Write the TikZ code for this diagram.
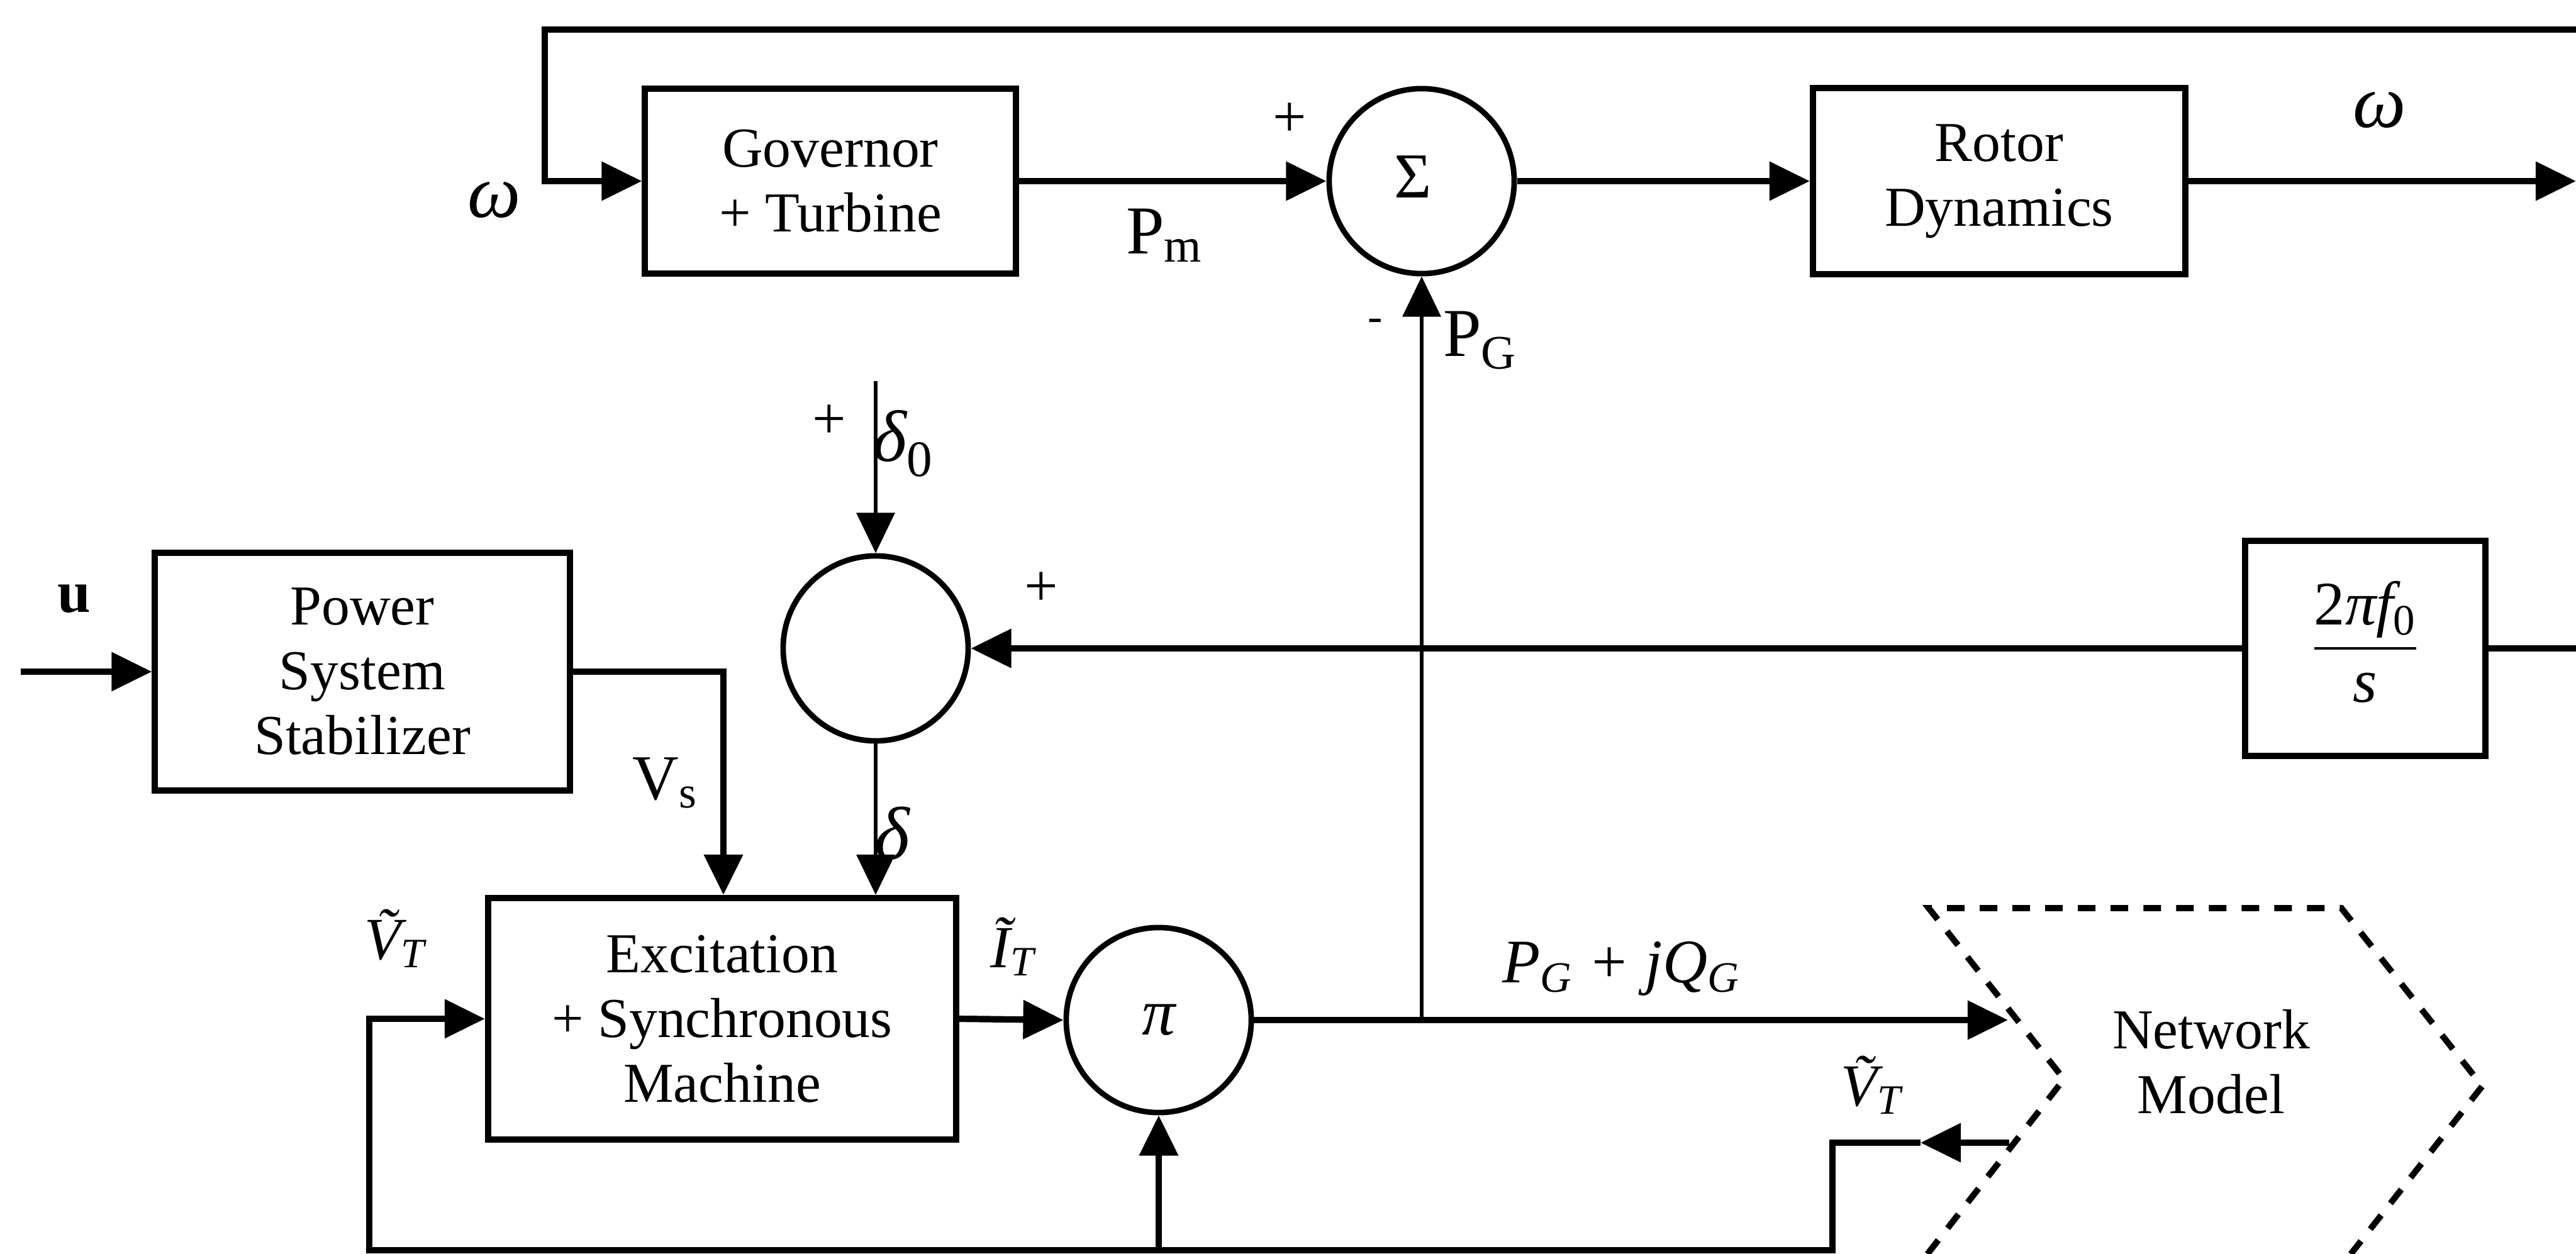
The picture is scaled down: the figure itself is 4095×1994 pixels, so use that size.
\documentclass[tikz,border=0pt]{standalone}
\usepackage{fontspec}
\setmainfont{Liberation Serif}
\usetikzlibrary{arrows.meta,calc}
\setlength{\arrayrulewidth}{1pt}
\begin{document}
\begin{tikzpicture}[x=0.01cm,y=-0.01cm,
  thk/.style={line width=2.9pt},
  thn/.style={line width=1.8pt},
  arr/.style={-{Triangle[length=0.64cm,width=0.6cm]}},
  blk/.style={draw,rectangle,line width=2.8pt,align=center,inner sep=0pt,
    font=\fontsize{25.5}{29.3}\selectfont},
  sumc/.style={draw,circle,line width=2.5pt,minimum size=2.94cm,inner sep=0pt},
  txt/.style={inner sep=0pt,font=\fontsize{25}{29}\selectfont},
  upl/.style={inner sep=0pt,font=\fontsize{31}{33}\selectfont},
  itl/.style={inner sep=0pt,font=\fontsize{27}{30}\selectfont\itshape},
  grk/.style={inner sep=0pt,font=\fontsize{34}{36}\selectfont\itshape},
  netline/.style={line width=2.8pt,dash pattern=on 0.28cm off 0.24cm}
]
\useasboundingbox (0,0) rectangle (4095,1994);

% ---- blocks
\node[blk,minimum width=5.89cm,minimum height=2.94cm] (gov) at (1320,288) {Governor\\+ Turbine};
\node[sumc,font=\fontsize{29}{30}\selectfont] (sum1) at (2260,288) {\raisebox{4pt}{Σ}\hspace*{8pt}};
\node[blk,minimum width=5.92cm,minimum height=2.95cm] (rot) at (3178,288) {Rotor\\Dynamics};
\node[blk,minimum width=6.59cm,minimum height=3.77cm] (pss) at (576,1068) {Power\\System\\Stabilizer};
\node[sumc] (sum2) at (1392,1031) {};
\node[blk,minimum width=3.82cm,minimum height=3.41cm,font=\fontsize{28}{34}\selectfont] (integ) at (3760,1031)
  {\begin{tabular}{@{}c@{}}2{\itshape πf}\textsubscript{0}\\\hline {\itshape s}\end{tabular}};
\node[blk,minimum width=7.44cm,minimum height=3.84cm] (exc) at (1148,1620) {Excitation\\+ Synchronous\\Machine};
\node[sumc,font=\fontsize{30}{32}\selectfont\itshape] (pi) at (1842,1622) {π};

% ---- network model chevron
\coordinate (nTL) at (3066,1444);
\coordinate (nTR) at (3722,1444);
\coordinate (nRP) at (3946,1727);
\coordinate (nBR) at (3737,1994);
\coordinate (nBL) at (3064,1994);
\coordinate (nLP) at (3281,1716);
\draw[netline] (nBL) -- (nLP) -- (nTL) -- (nTR) -- (nRP) -- (nBR);
\node[txt,align=center,font=\fontsize{25.5}{29.3}\selectfont] (netl) at (3515,1688) {Network\\Model};

% ---- free ends
\coordinate (topR) at (4095,47);
\coordinate (topL) at (866,47);
\coordinate (omR) at (4095,288);
\coordinate (d0) at (1392,606);
\coordinate (intR) at (4095,1031);
\coordinate (uin) at (33,1068);
\coordinate (vs) at (1150,1068);
\coordinate (pqtip) at (3192,1622);
\coordinate (vtA) at (3194,1817);
\coordinate (vtM) at (3053,1817);
\coordinate (vtC) at (2913,1817);
\coordinate (botR) at (2913,1988);
\coordinate (botL) at (587,1988);

% ---- connectors
\draw[thk,arr] (topR) -- (topL) |- (gov.west);
\draw[thk,arr] (gov.east) -- (sum1.west);
\draw[thk,arr] (sum1.east) -- (rot.west);
\draw[thk,arr] (rot.east) -- (omR);
\draw[thn,arr] (sum1.south |- pi.east) -- (sum1.south);
\draw[thk,arr] (uin) -- (pss.west);
\draw[thk,arr] (pss.east) -- (vs) -- (vs |- exc.north);
\draw[thn,arr] (d0) -- (sum2.north);
\draw[thk,arr] (integ.west) -- (sum2.east);
\draw[thk] (integ.east) -- (intR);
\draw[thn,arr] (sum2.south) -- (sum2.south |- exc.north);
\draw[thk,arr] (exc.east) -- (pi.west);
\draw[thk,arr] (pi.east) -- (pqtip);
\draw[thk,arr] (vtA) -- (vtM);
\draw[thk,arr] (vtM) -- (vtC) -- (botR) -- (botL) |- (exc.west);
\draw[thk,arr] (pi.south |- botL) -- (pi.south);

% ---- labels
\node[grk] (omL) at (786,318) {ω};
\node[grk] (omRl) at (3783,175) {ω};
\node[txt,font=\fontsize{27}{29}\selectfont] (plus1) at (2050,191) {+};
\node[upl] (pm) at (1851,374) {P\textsubscript{m}};
\node[txt,font=\fontsize{20}{22}\selectfont] (minus1) at (2186,517) {-};
\node[upl] (pg) at (2353,541) {P\textsubscript{G}};
\node[txt,font=\fontsize{27}{28}\selectfont\bfseries] (ulbl) at (118,952) {u};
\node[upl,font=\fontsize{29}{30}\selectfont] (vslbl) at (1057,1245) {V\textsubscript{s}};
\node[txt,font=\fontsize{27}{29}\selectfont] (plus2) at (1318,671) {+};
\node[grk,font=\fontsize{33}{36}\selectfont] (d0l) at (1436,705) {{\itshape δ}\textsubscript{0}};
\node[txt,font=\fontsize{27}{29}\selectfont] (plus3) at (1655,937) {+};
\node[grk] (dl) at (1418,1325) {δ};
\node[itl] (vtl) at (628,1492) {\~{V}\textsubscript{T}};
\node[itl] (itlb) at (1610,1505) {\~{I}\textsubscript{T}};
\node[itl,font=\fontsize{28}{30}\selectfont\itshape] (pq) at (2577,1540) {P\textsubscript{G} + jQ\textsubscript{G}};
\node[itl] (vtr) at (2975,1725) {\~{V}\textsubscript{T}};
\end{tikzpicture}
\end{document}
